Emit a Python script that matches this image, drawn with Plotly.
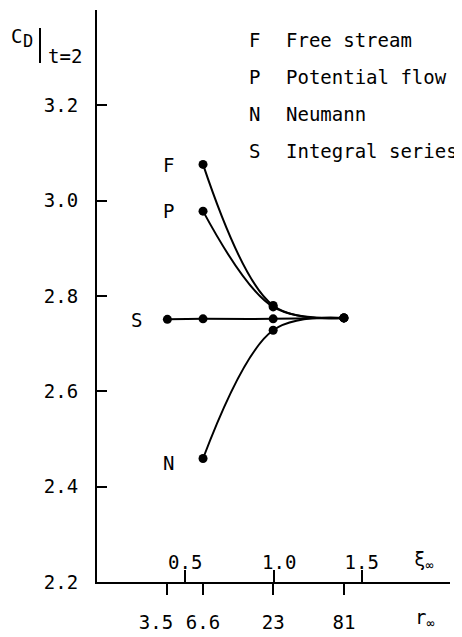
import numpy as np
import plotly.graph_objects as go

# ---- data ----
r_all = [3.5, 6.6, 23, 81]
r_three = [6.6, 23, 81]
cd_S = [2.751, 2.752, 2.752, 2.754]
cd_F = [3.076, 2.780, 2.754]
cd_P = [2.978, 2.777, 2.754]
cd_N = [2.459, 2.728, 2.754]

xi_ticks = [0.5, 1.0, 1.5]
xi_ticktext = ["0.5", "\u00a01.0", "1.5"]
r_ticks = [3.5, 6.6, 23, 81]
r_ticktext = ["3.5\u00a0\u00a0", "6.6", "23", "81"]
y_ticks = [2.2, 2.4, 2.6, 2.8, 3.0, 3.2]
y_ticktext = ["2.2", "2.4", "2.6", "2.8", "3.0", "3.2"]

legend_keys = ["F", "P", "N", "S"]
legend_names = ["Free stream", "Potential flow", "Neumann", "Integral series"]


def xi(r):
    # xi_inf = ln(r_inf) / pi
    return list(np.log(np.array(r, dtype=float)) / np.pi)


FONT = "DejaVu Sans Mono"
FS = 19
OFF = 8  # page body margin
W, H = 462 - OFF, 637 - OFF
# plot area in page pixels: x 97..450, y 10..582
L, R, T, B = 97 - OFF, 462 - 450, 10 - OFF, 637 - 582
PW, PH = W - L - R, H - T - B


def px(x):  # page pixel -> paper fraction
    return (x - OFF - L) / PW


def py(y):
    return (H - B - (y - OFF)) / PH


fig = go.Figure()
for name, rr, cc in [("S", r_all, cd_S), ("F", r_three, cd_F),
                     ("P", r_three, cd_P), ("N", r_three, cd_N)]:
    fig.add_trace(go.Scatter(
        x=xi(rr), y=cc, mode="lines+markers", name=name,
        line=dict(color="black", width=2, shape="spline", smoothing=1.0),
        marker=dict(color="black", size=9),
        showlegend=False, xaxis="x", yaxis="y"))

# invisible trace to activate xi axis
fig.add_trace(go.Scatter(x=xi_ticks, y=[None] * len(xi_ticks), xaxis="x2", yaxis="y",
                         showlegend=False, hoverinfo="skip", mode="markers"))

font = dict(family=FONT, size=FS, color="black")

fig.update_layout(
    width=W, height=H,
    margin=dict(l=L, r=R, t=T, b=B, autoexpand=False),
    paper_bgcolor="white", plot_bgcolor="white",
    font=font,
    # r_inf axis (bottom, ticks down)
    xaxis=dict(range=[0, 2], showgrid=False, zeroline=False, automargin=False,
               showline=True, linecolor="black", linewidth=2,
               ticks="outside", ticklen=11, tickwidth=2, tickcolor="black",
               tickvals=xi(r_ticks), ticktext=r_ticktext, tickangle=0,
               ticklabelstandoff=11, tickfont=font),
    # xi_inf axis (drawn on the same line, ticks up)
    xaxis2=dict(range=[0, 2], overlaying="x", anchor="free", position=0, side="top",
                automargin=False,
                showgrid=False, zeroline=False, showline=False,
                ticks="outside", ticklen=12, tickwidth=2, tickcolor="black",
                tickvals=xi_ticks, ticktext=xi_ticktext, tickangle=0,
                ticklabelstandoff=-7, tickfont=font),
    yaxis=dict(range=[2.1999, 3.4], showgrid=False, zeroline=False, automargin=False,
               showline=True, linecolor="black", linewidth=2,
               ticks="inside", ticklen=10, tickwidth=2, tickcolor="black",
               tickvals=y_ticks, ticktext=y_ticktext,
               ticklabelstandoff=13, tickfont=font),
)

ann = []
# curve labels
ann.append(dict(x=px(168), y=py(165), text="F"))
ann.append(dict(x=px(168), y=py(211), text="P"))
ann.append(dict(x=px(136), y=py(320), text="S"))
ann.append(dict(x=px(168), y=py(463), text="N"))
for a in ann:
    a.update(xref="paper", yref="paper", showarrow=False, font=font,
             xanchor="center", yanchor="middle")

# legend text
rows_y = [40, 77, 114, 151]
for k, nm, yy in zip(legend_keys, legend_names, rows_y):
    ann.append(dict(x=px(247), y=py(yy), text=k, xref="paper", yref="paper",
                    showarrow=False, font=font, xanchor="left", yanchor="middle"))
    ann.append(dict(x=px(284), y=py(yy), text=nm, xref="paper", yref="paper",
                    showarrow=False, font=font, xanchor="left", yanchor="middle"))

# axis titles
ann.append(dict(x=px(9), y=py(36), text="C", xref="paper", yref="paper",
                showarrow=False, font=font, xanchor="left", yanchor="middle"))
ann.append(dict(x=px(21), y=py(41), text="D", xref="paper", yref="paper",
                showarrow=False, font=dict(family=FONT, size=17, color="black"),
                xanchor="left", yanchor="middle"))
ann.append(dict(x=px(46), y=py(56), text="t=2", xref="paper", yref="paper",
                showarrow=False, font=font, xanchor="left", yanchor="middle"))
ann.append(dict(x=px(412), y=py(560), text="ξ<sub>∞</sub>", xref="paper", yref="paper",
                showarrow=False, font=font, xanchor="left", yanchor="middle"))
ann.append(dict(x=px(413), y=py(618), text="r<sub>∞</sub>", xref="paper", yref="paper",
                showarrow=False, font=font, xanchor="left", yanchor="middle"))

fig.update_layout(annotations=ann)
fig.add_shape(type="line", xref="paper", yref="paper",
              x0=px(40), x1=px(40), y0=py(28), y1=py(63),
              line=dict(color="black", width=2))

fig.write_html("out.html")
